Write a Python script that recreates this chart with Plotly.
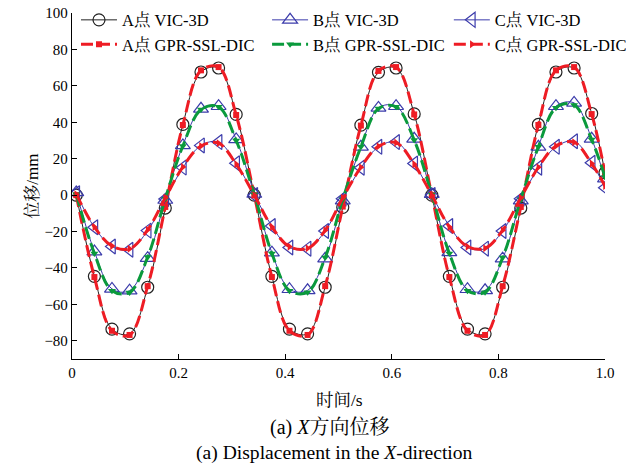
import plotly.graph_objects as go

# time samples (s)
t = [0.008, 0.042, 0.075, 0.108, 0.142, 0.175, 0.208, 0.242, 0.275, 0.308,
     0.342, 0.375, 0.408, 0.442, 0.475, 0.508, 0.542, 0.575, 0.608, 0.642,
     0.675, 0.708, 0.742, 0.775, 0.808, 0.842, 0.875, 0.908, 0.942, 0.975, 1.0]

a_vic = [0, -44.6, -73.6, -76.2, -50.6, -7.1, 38.8, 67.6, 69.8, 44.3,
         0, -44.6, -73.6, -76.2, -50.6, -6.7, 38.4, 67.4, 69.8, 44.6,
         0, -44.6, -73.6, -76.2, -50.6, -7.1, 38.8, 67.6, 69.8, 44.8, 12.3]
b_vic = [1.5, -31.0, -51.5, -52.5, -34.6, -2.7, 27.3, 47.4, 48.8, 30.6,
         0.6, -31.6, -51.7, -52.3, -34.9, -3.0, 26.5, 47.9, 48.8, 30.9,
         0.5, -31.5, -51.7, -52.3, -34.9, -3.0, 26.5, 48.8, 50.6, 30.9, 9.0]
c_vic = [1.0, -17.7, -28.2, -30.0, -19.5, -2.2, 15.1, 27.3, 29.1, 17.5,
         0.0, -17.0, -28.8, -29.4, -19.7, -2.0, 15.0, 26.5, 29.1, 17.4,
         0.0, -17.0, -28.8, -29.4, -19.7, -2.0, 15.0, 26.5, 29.6, 17.8, 4.0]
a_gpr = [0, -45.0, -74.5, -76.8, -50.0, -6.5, 38.5, 68.5, 70.3, 44.0,
         0, -45.0, -74.5, -76.8, -50.0, -6.3, 38.2, 68.2, 70.3, 44.3,
         0, -45.0, -74.5, -76.8, -50.0, -6.5, 38.5, 68.5, 70.3, 44.5, 12.0]
b_gpr = [0.5, -32.0, -52.5, -53.5, -34.0, -2.0, 27.0, 47.0, 48.5, 30.0,
         0.3, -32.0, -52.5, -53.3, -34.3, -2.3, 26.5, 47.5, 48.5, 30.3,
         0.3, -32.0, -52.5, -53.3, -34.3, -2.3, 26.5, 48.0, 49.5, 30.5, 10.0]
c_gpr = [0.5, -17.5, -28.0, -29.5, -19.0, -1.5, 15.5, 27.0, 28.5, 17.0,
         0.0, -17.5, -28.3, -29.2, -19.3, -1.5, 15.3, 26.8, 28.8, 17.0,
         0.0, -17.5, -28.3, -29.2, -19.3, -1.5, 15.3, 27.0, 29.0, 17.3, 5.0]

names = ["A点 VIC-3D", "B点 VIC-3D", "C点 VIC-3D",
         "A点 GPR-SSL-DIC", "B点 GPR-SSL-DIC", "C点 GPR-SSL-DIC"]

x_ticks = [0, 0.2, 0.4, 0.6, 0.8, 1.0]
x_ticktext = ["0", "0.2", "0.4", "0.6", "0.8", "1.0"]
y_ticks = [-80, -60, -40, -20, 0, 20, 40, 60, 80, 100]

FONT = "Liberation Serif, Noto Serif CJK SC, Noto Sans CJK SC, serif"
BLUE = "#3b3bab"
RED = "#ee1c24"
GREEN = "#0a9a3c"
DASH = "12px,5px"

fig = go.Figure()

fig.add_trace(go.Scatter(x=t, y=a_vic, name=names[0], mode="lines+markers", legend="legend",
                         line=dict(color="#222222", width=1, shape="spline"),
                         marker=dict(symbol="circle-open", size=12, color="#222222",
                                     line=dict(width=1.2))))
fig.add_trace(go.Scatter(x=t, y=b_vic, name=names[1], mode="lines+markers", legend="legend2",
                         line=dict(color=BLUE, width=1, shape="spline"),
                         marker=dict(symbol="triangle-up-open", size=13, color=BLUE,
                                     line=dict(width=1.2))))
fig.add_trace(go.Scatter(x=t, y=c_vic, name=names[2], mode="lines+markers", legend="legend3",
                         line=dict(color=BLUE, width=1, shape="spline"),
                         marker=dict(symbol="triangle-left-open", size=13, color=BLUE,
                                     line=dict(width=1.2))))
fig.add_trace(go.Scatter(x=t, y=a_gpr, name=names[3], mode="lines+markers", legend="legend",
                         line=dict(color=RED, width=3, dash=DASH, shape="spline"),
                         marker=dict(symbol="square", size=6, color=RED)))
fig.add_trace(go.Scatter(x=t, y=b_gpr, name=names[4], mode="lines+markers", legend="legend2",
                         line=dict(color=GREEN, width=3, dash=DASH, shape="spline"),
                         marker=dict(symbol="triangle-down", size=7, color=GREEN)))
fig.add_trace(go.Scatter(x=t, y=c_gpr, name=names[5], mode="lines+markers", legend="legend3",
                         line=dict(color=RED, width=3, dash=DASH, shape="spline"),
                         marker=dict(symbol="triangle-right", size=7, color=RED)))

axis_common = dict(showline=True, linecolor="black", linewidth=1.3, ticks="inside",
                   ticklen=5, tickwidth=1.3, tickcolor="black", showgrid=False,
                   zeroline=False, tickfont=dict(family=FONT, size=15, color="black"))


def leg(xpos):
    return dict(orientation="v", x=xpos, y=1.03, xanchor="left", yanchor="top",
                itemwidth=36, bgcolor="rgba(0,0,0,0)", tracegroupgap=0,
                font=dict(family=FONT, size=16.5, color="black"))


fig.update_layout(
    width=626, height=469,
    margin=dict(l=72, r=21, t=13, b=110, autoexpand=False),
    paper_bgcolor="white", plot_bgcolor="white",
    font=dict(family=FONT, color="black"),
    xaxis=dict(range=[0, 1.0], tickvals=x_ticks, ticktext=x_ticktext, **axis_common),
    yaxis=dict(range=[-90, 100], tickvals=y_ticks, **axis_common),
    legend=leg(0.0075),
    legend2=leg(0.366),
    legend3=leg(0.707),
    annotations=[
        dict(text="位移/mm", x=-0.097, y=0.5, xref="paper", yref="paper",
             textangle=-90, showarrow=False, font=dict(family=FONT, size=17)),
        dict(text="时间/s", x=0.5025, y=-0.1175, xref="paper", yref="paper",
             showarrow=False, yanchor="middle", font=dict(family=FONT, size=17.5)),
        dict(text="(a) <i>X</i>方向位移", x=0.484, y=-0.1975, xref="paper", yref="paper",
             showarrow=False, yanchor="middle", font=dict(family=FONT, size=20)),
        dict(text="(a) Displacement in the <i>X</i>-direction", x=0.493, y=-0.2706,
             xref="paper", yref="paper", showarrow=False, yanchor="middle",
             font=dict(family=FONT, size=19.6)),
    ],
)

fig.write_html("out.html")
